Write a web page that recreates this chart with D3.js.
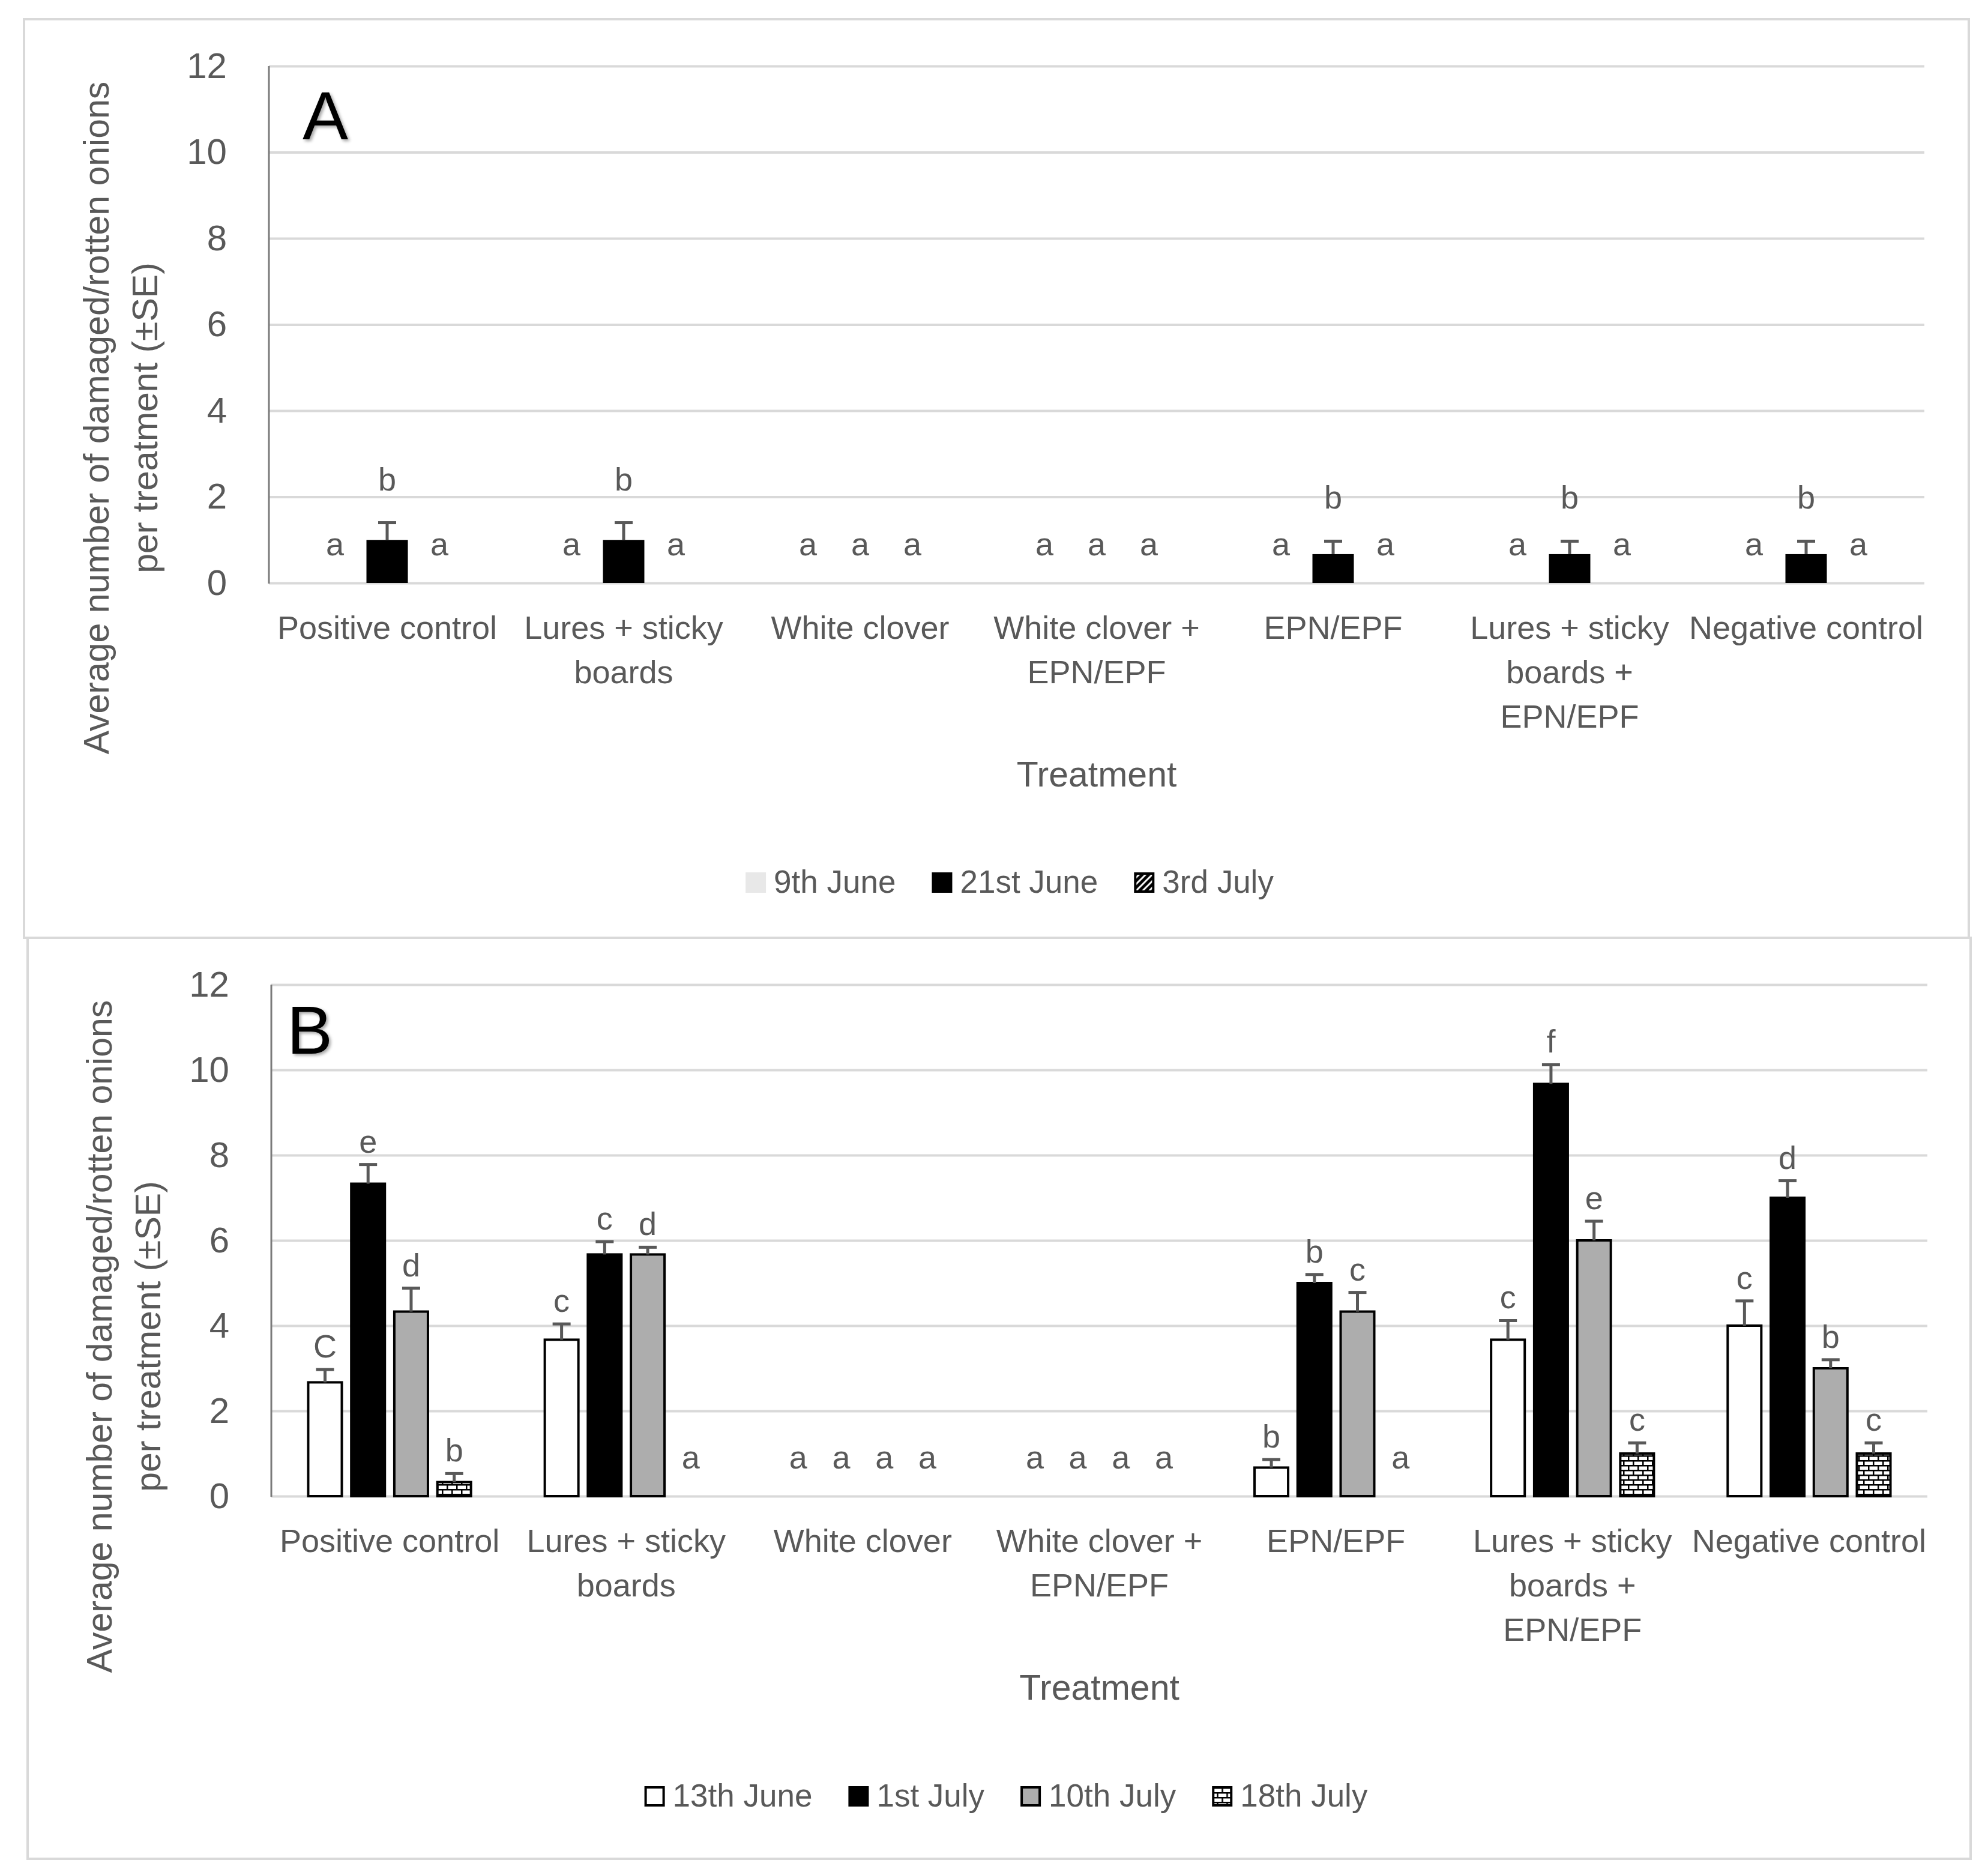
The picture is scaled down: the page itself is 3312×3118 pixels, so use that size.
<!DOCTYPE html>
<html>
<head>
<meta charset="utf-8">
<script src="https://cdn.jsdelivr.net/npm/d3@7"></script>
<style>
  body { margin: 0; background: #ffffff; }
  text { font-family: "Liberation Sans", Arial, sans-serif; fill: #595959; }
</style>
</head>
<body>
<script>
// ---- data ----
const categories = ["Positive control", "Lures + sticky boards", "White clover",
  "White clover + EPN/EPF", "EPN/EPF", "Lures + sticky boards + EPN/EPF", "Negative control"];
const categoryLines = [["Positive control"], ["Lures + sticky", "boards"], ["White clover"],
  ["White clover +", "EPN/EPF"], ["EPN/EPF"], ["Lures + sticky", "boards +", "EPN/EPF"], ["Negative control"]];
const yTicks = [0, 2, 4, 6, 8, 10, 12];

// panel A
const seriesA = ["9th June", "21st June", "3rd July"];
const meanA_9June  = [0, 0, 0, 0, 0, 0, 0];
const meanA_21June = [1, 1, 0, 0, 0.67, 0.67, 0.67];
const meanA_3July  = [0, 0, 0, 0, 0, 0, 0];
const seA_9June  = [0, 0, 0, 0, 0, 0, 0];
const seA_21June = [0.4, 0.4, 0, 0, 0.3, 0.3, 0.3];
const seA_3July  = [0, 0, 0, 0, 0, 0, 0];
const letA_9June  = ["a", "a", "a", "a", "a", "a", "a"];
const letA_21June = ["b", "b", "a", "a", "b", "b", "b"];
const letA_3July  = ["a", "a", "a", "a", "a", "a", "a"];

// panel B
const seriesB = ["13th June", "1st July", "10th July", "18th July"];
const meanB_13June = [2.67, 3.67, 0, 0, 0.67, 3.67, 4.0];
const meanB_1July  = [7.33, 5.67, 0, 0, 5.0, 9.67, 7.0];
const meanB_10July = [4.33, 5.67, 0, 0, 4.33, 6.0, 3.0];
const meanB_18July = [0.33, 0, 0, 0, 0, 1.0, 1.0];
const seB_13June = [0.3, 0.37, 0, 0, 0.19, 0.45, 0.58];
const seB_1July  = [0.45, 0.3, 0, 0, 0.2, 0.45, 0.4];
const seB_10July = [0.55, 0.17, 0, 0, 0.45, 0.45, 0.2];
const seB_18July = [0.2, 0, 0, 0, 0, 0.25, 0.25];
const letB_13June = ["C", "c", "a", "a", "b", "c", "c"];
const letB_1July  = ["e", "c", "a", "a", "b", "f", "d"];
const letB_10July = ["d", "d", "a", "a", "c", "e", "b"];
const letB_18July = ["b", "a", "a", "a", "a", "c", "c"];

// ---- page ----
const W = 3312, H = 3118;
const svg = d3.select("body").append("svg")
  .attr("width", W).attr("height", H)
  .attr("viewBox", `0 0 ${W} ${H}`);

svg.append("rect").attr("width", W).attr("height", H).attr("fill", "#ffffff");

const defs = svg.append("defs");

// diagonal hatch: black with white stripes
const hatch = defs.append("pattern")
  .attr("id", "hatch").attr("patternUnits", "userSpaceOnUse")
  .attr("width", 11).attr("height", 11);
hatch.append("rect").attr("width", 11).attr("height", 11).attr("fill", "#000");
hatch.append("path")
  .attr("d", "M0,11 L11,0 M-3,3 L3,-3 M8,14 L14,8")
  .attr("stroke", "#fff").attr("stroke-width", 3);

// brick pattern: white bricks, black mortar
const brick = defs.append("pattern")
  .attr("id", "brick").attr("patternUnits", "userSpaceOnUse")
  .attr("width", 16).attr("height", 16);
brick.append("rect").attr("width", 16).attr("height", 16).attr("fill", "#000");
brick.append("rect").attr("x", 2.5).attr("y", 2.5).attr("width", 13.5).attr("height", 5.5).attr("fill", "#fff");
brick.append("rect").attr("x", 0).attr("y", 10.5).attr("width", 8).attr("height", 5.5).attr("fill", "#fff");
brick.append("rect").attr("x", 10.5).attr("y", 10.5).attr("width", 5.5).attr("height", 5.5).attr("fill", "#fff");

// soft shadow for the panel letters
const shadow = defs.append("filter").attr("id", "shadow")
  .attr("x", "-20%").attr("y", "-20%").attr("width", "150%").attr("height", "150%");
shadow.append("feDropShadow")
  .attr("dx", 3).attr("dy", 3).attr("stdDeviation", 2.5)
  .attr("flood-color", "#000").attr("flood-opacity", 0.35);

/**
 * drawPanel
 *
 * Purpose: draws one framed bar chart panel (gridlines, bars, error bars,
 * significance letters, axis titles and legend).
 */
function drawPanel(p) {
  // frame
  svg.append("rect")
    .attr("x", p.box[0]).attr("y", p.box[1])
    .attr("width", p.box[2] - p.box[0]).attr("height", p.box[3] - p.box[1])
    .attr("fill", "#fff").attr("stroke", "#d9d9d9").attr("stroke-width", 4);

  const y = d3.scaleLinear().domain([0, 12]).range([p.bottom, p.top]);
  const x0 = d3.scaleBand().domain(categories).range([p.left, p.right]).padding(0);
  const x1 = d3.scaleBand().domain(p.series)
    .range([0, x0.bandwidth()])
    .paddingInner(p.padInner).paddingOuter(p.padOuter);

  // gridlines + tick labels
  const gy = svg.append("g")
    .attr("transform", `translate(${p.left},0)`)
    .call(d3.axisLeft(y).tickValues(yTicks).tickSize(-(p.right - p.left)).tickPadding(70));
  gy.select(".domain").remove();
  gy.selectAll(".tick line").attr("stroke", "#d9d9d9").attr("stroke-width", 4);
  gy.selectAll(".tick text")
    .attr("font-size", 60).attr("fill", "#595959")
    .attr("font-family", "Liberation Sans, Arial, sans-serif");

  // vertical axis line
  svg.append("line")
    .attr("x1", p.left).attr("x2", p.left)
    .attr("y1", y(0) + 1).attr("y2", y(12))
    .attr("stroke", "#7a7a7a").attr("stroke-width", 3);

  // bar rows
  const rows = [];
  categories.forEach((c, i) => {
    p.series.forEach((s, j) => {
      rows.push({ cat: c, series: s, j: j,
        value: p.means[j][i], se: p.ses[j][i], letter: p.letters[j][i] });
    });
  });

  const groups = svg.append("g");
  const bx = d => x0(d.cat) + x1(d.series);
  const cx = d => bx(d) + x1.bandwidth() / 2;

  groups.selectAll("rect.bar")
    .data(rows.filter(d => d.value > 0))
    .enter().append("rect")
    .attr("class", "bar")
    .attr("x", bx)
    .attr("y", d => y(d.value))
    .attr("width", x1.bandwidth())
    .attr("height", d => y(0) - y(d.value))
    .attr("fill", d => p.fills[d.j])
    .attr("stroke", d => p.strokes[d.j])
    .attr("stroke-width", p.barStroke);

  // error bars
  const eb = rows.filter(d => d.se > 0);
  groups.selectAll("line.stem").data(eb).enter().append("line")
    .attr("x1", cx).attr("x2", cx)
    .attr("y1", d => y(d.value)).attr("y2", d => y(d.value + d.se))
    .attr("stroke", "#595959").attr("stroke-width", 5);
  groups.selectAll("line.cap").data(eb).enter().append("line")
    .attr("x1", d => cx(d) - 15).attr("x2", d => cx(d) + 15)
    .attr("y1", d => y(d.value + d.se)).attr("y2", d => y(d.value + d.se))
    .attr("stroke", "#595959").attr("stroke-width", 5);

  // significance letters
  groups.selectAll("text.letter").data(rows).enter().append("text")
    .attr("x", cx)
    .attr("y", d => d.value > 0 ? y(d.value + d.se) - p.letterGap : y(0) - 46)
    .attr("text-anchor", "middle")
    .attr("font-size", 54)
    .text(d => d.letter);

  // category labels
  const gx = svg.append("g")
    .attr("transform", `translate(0,${p.bottom})`)
    .call(d3.axisBottom(x0).tickSize(0).tickPadding(0));
  gx.select(".domain").remove();
  gx.selectAll(".tick text").each(function (d, i) {
    const t = d3.select(this).text(null)
      .attr("y", 93).attr("dy", null)
      .attr("font-size", 54).attr("fill", "#595959")
      .attr("font-family", "Liberation Sans, Arial, sans-serif");
    categoryLines[i].forEach((line, k) => {
      t.append("tspan").attr("x", 0).attr("dy", k === 0 ? 0 : 74).text(line);
    });
  });

  // axis titles
  svg.append("text")
    .attr("x", (p.left + p.right) / 2).attr("y", p.bottom + 339)
    .attr("text-anchor", "middle").attr("font-size", 59)
    .text("Treatment");
  svg.append("text")
    .attr("transform", `translate(${p.yTitleX[0]},${p.yTitleY}) rotate(-90)`)
    .attr("text-anchor", "middle").attr("font-size", 59)
    .text("Average number of damaged/rotten onions");
  svg.append("text")
    .attr("transform", `translate(${p.yTitleX[1]},${p.yTitleY}) rotate(-90)`)
    .attr("text-anchor", "middle").attr("font-size", 59)
    .text("per treatment (\u00b1SE)");

  // panel letter
  svg.append("text")
    .attr("x", p.tag[1]).attr("y", p.tag[2])
    .attr("font-size", 114).attr("fill", "#000")
    .style("fill", "#000")
    .attr("filter", "url(#shadow)")
    .text(p.tag[0]);

  // legend
  const lg = svg.append("g");
  const sw = 34, gapText = 13, gapItem = 60;
  const items = p.series.map((s, j) => {
    const g = lg.append("g");
    g.append("rect")
      .attr("x", p.legendStroke[j] ? 2 : 0).attr("y", -sw + (p.legendStroke[j] ? 2 : 0))
      .attr("width", p.legendStroke[j] ? sw - 4 : sw)
      .attr("height", p.legendStroke[j] ? sw - 4 : sw)
      .attr("fill", p.fills[j])
      .attr("stroke", p.legendStroke[j] ? "#000" : "none")
      .attr("stroke-width", 4);
    const t = g.append("text")
      .attr("x", sw + gapText).attr("y", 0)
      .attr("font-size", 53).text(s);
    return { g: g, w: sw + gapText + t.node().getComputedTextLength() };
  });
  const total = d3.sum(items, d => d.w) + gapItem * (items.length - 1);
  let lx = p.legendCenter - total / 2;
  items.forEach(it => {
    it.g.attr("transform", `translate(${lx},${p.legendBaseline})`);
    lx += it.w + gapItem;
  });
}

drawPanel({
  box: [40, 32, 3280, 1562],
  left: 448, right: 3206, top: 110, bottom: 971,
  series: seriesA,
  means: [meanA_9June, meanA_21June, meanA_3July],
  ses: [seA_9June, seA_21June, seA_3July],
  letters: [letA_9June, letA_21June, letA_3July],
  fills: ["#e8e8e8", "#000000", "url(#hatch)"],
  strokes: ["none", "#000000", "#000000"],
  legendStroke: [false, false, true],
  barStroke: 0,
  padInner: 0.207, padOuter: 0.868,
  letterGap: 54,
  yTitleX: [181, 262], yTitleY: 696,
  tag: ["A", 504, 232],
  legendCenter: 1682, legendBaseline: 1487
});

drawPanel({
  box: [46, 1562, 3283, 3096],
  left: 452, right: 3211, top: 1640, bottom: 2492,
  series: seriesB,
  means: [meanB_13June, meanB_1July, meanB_10July, meanB_18July],
  ses: [seB_13June, seB_1July, seB_10July, seB_18July],
  letters: [letB_13June, letB_1July, letB_10July, letB_18July],
  fills: ["#ffffff", "#000000", "#adadad", "url(#brick)"],
  strokes: ["#000000", "#000000", "#000000", "#000000"],
  legendStroke: [true, false, true, true],
  barStroke: 4,
  padInner: 0.219, padOuter: 0.857,
  letterGap: 20,
  yTitleX: [186, 267], yTitleY: 2226,
  tag: ["B", 478, 1755],
  legendCenter: 1676, legendBaseline: 3009
});
</script>
</body>
</html>
